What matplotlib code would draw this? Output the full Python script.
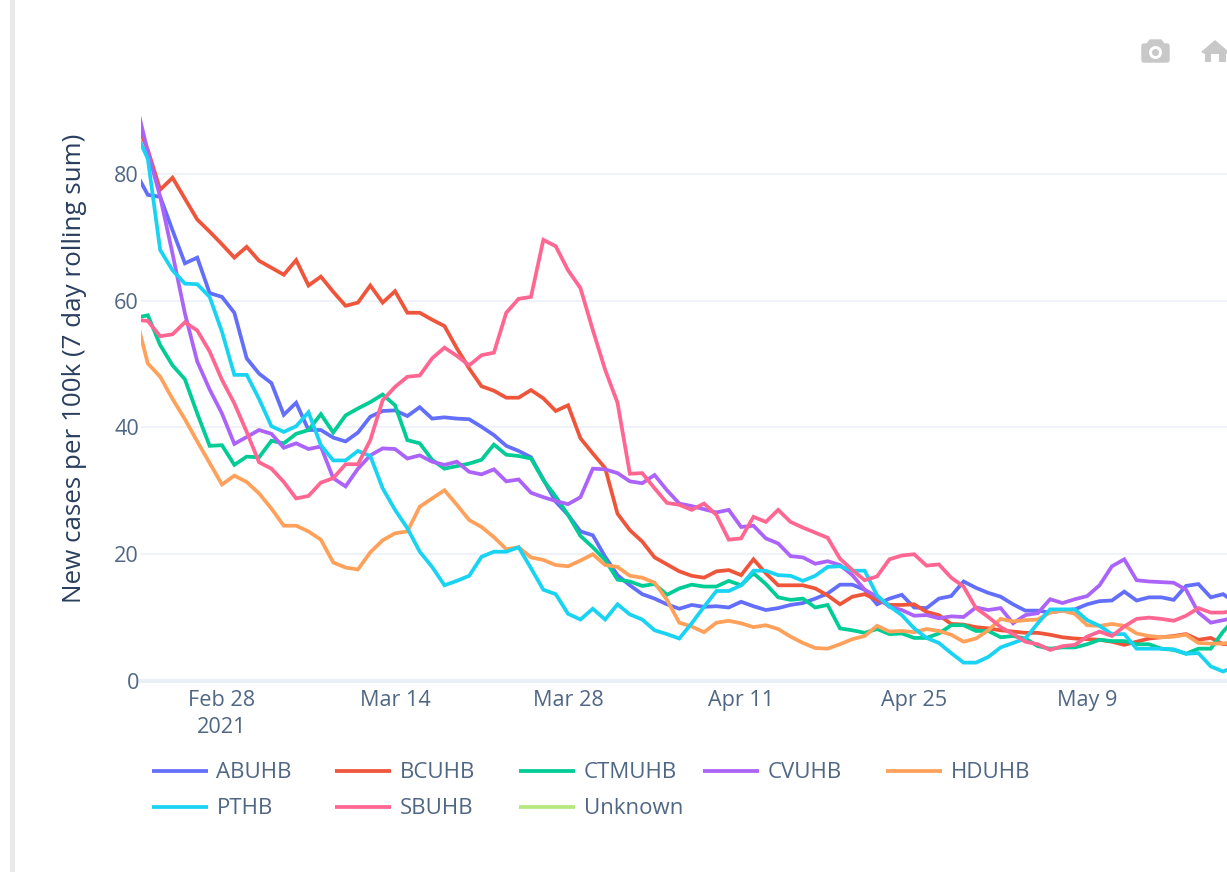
#!/usr/bin/env python

import matplotlib
matplotlib.use("Agg")
import matplotlib.pyplot as plt
import pandas as pd
from matplotlib.lines import Line2D
from matplotlib.patches import Circle, FancyBboxPatch, Polygon, Rectangle

plt.rcParams['font.family'] = ['Open Sans', 'DejaVu Sans']

dates = pd.date_range("2021-02-21", periods=90, freq="D")

ABUHB = [80.3,76.7,76.4,71.1,65.9,66.8,61.2,60.6,58.1,50.9,
         48.5,47.0,42.0,43.9,39.6,39.6,38.4,37.8,39.2,41.7,
         42.6,42.7,41.8,43.2,41.4,41.6,41.4,41.3,40.1,38.8,
         37.1,36.3,35.3,31.8,28.3,26.2,23.6,23.0,19.6,16.7,
         15.1,13.7,13.0,12.1,11.4,12.0,11.7,11.8,11.6,12.5,
         11.8,11.2,11.5,12.0,12.3,13.0,13.8,15.2,15.2,14.4,
         12.1,13.0,13.6,11.6,11.5,13.0,13.4,15.7,14.7,13.9,
         13.3,12.1,11.1,11.1,10.8,11.1,11.3,12.1,12.6,12.7,
         14.1,12.7,13.2,13.2,12.8,15.0,15.3,13.2,13.7,12.3]
BCUHB = [88.5,83.8,77.5,79.4,76.1,72.8,70.9,68.9,66.8,68.5,
         66.3,65.2,64.1,66.4,62.4,63.8,61.4,59.2,59.7,62.4,
         59.7,61.5,58.1,58.1,57.0,56.0,52.5,49.3,46.5,45.8,
         44.7,44.7,45.9,44.6,42.6,43.5,38.3,35.9,33.6,26.4,
         23.8,22.0,19.5,18.4,17.3,16.6,16.3,17.3,17.5,16.7,
         19.2,17.0,15.1,15.1,15.1,14.6,13.5,12.1,13.3,13.7,
         12.8,12.0,12.0,12.1,10.9,10.4,9.0,8.9,8.5,8.3,
         8.0,7.8,7.6,7.6,7.3,6.9,6.7,6.6,6.5,6.2,
         5.7,6.2,6.7,6.9,7.1,7.4,6.5,6.8,5.8,5.9]
CTMUHB = [57.3,57.7,53.0,49.8,47.6,42.2,37.1,37.2,34.1,35.4,
          35.3,37.9,37.5,39.0,39.6,42.1,39.2,41.9,43.0,44.0,
          45.2,43.5,38.0,37.5,34.9,33.5,33.9,34.3,34.9,37.3,
          35.7,35.5,35.1,31.7,29.1,26.2,22.9,21.1,19.1,16.0,
          15.7,15.0,15.3,13.6,14.6,15.2,14.9,14.9,15.8,15.1,
          17.0,15.3,13.2,12.8,13.0,11.6,12.0,8.3,8.0,7.6,
          8.2,7.4,7.5,6.8,6.8,7.5,8.8,8.8,7.9,7.9,
          6.9,7.1,6.7,5.5,5.1,5.3,5.3,5.8,6.5,6.3,
          6.3,5.8,5.8,5.1,4.9,4.3,5.1,5.1,7.8,9.9]
CVUHB = [91.6,83.5,76.4,67.4,58.0,50.4,46.0,42.2,37.4,38.5,
         39.6,39.0,36.8,37.5,36.6,37.0,32.0,30.7,33.5,35.6,
         36.7,36.6,35.1,35.6,34.6,34.1,34.6,33.0,32.6,33.4,
         31.5,31.8,29.7,29.0,28.4,27.9,29.0,33.5,33.4,32.8,
         31.5,31.2,32.5,30.1,28.0,27.6,27.1,26.6,27.0,24.3,
         24.5,22.5,21.7,19.7,19.5,18.5,18.9,18.3,16.7,14.4,
         13.3,11.7,11.2,10.3,10.4,9.9,10.2,10.1,11.6,11.2,
         11.5,9.1,10.4,10.7,12.9,12.3,12.9,13.4,15.1,18.1,
         19.2,15.9,15.7,15.6,15.5,14.4,10.8,9.2,9.6,10.0]
HDUHB = [57.7,50.1,48.0,44.5,41.3,37.8,34.4,31.0,32.4,31.4,
         29.6,27.2,24.5,24.5,23.6,22.3,18.7,17.9,17.6,20.3,
         22.2,23.3,23.6,27.5,28.8,30.1,27.8,25.4,24.3,22.7,
         20.8,21.1,19.5,19.1,18.3,18.1,19.0,20.0,18.3,18.0,
         16.6,16.3,15.5,12.8,9.2,8.6,7.7,9.2,9.5,9.1,
         8.5,8.8,8.2,7.0,6.0,5.2,5.1,5.8,6.6,7.1,
         8.7,7.8,7.9,7.7,8.2,7.9,7.3,6.2,6.7,8.0,
         9.8,9.4,9.6,9.7,10.8,11.1,10.6,8.8,8.7,9.0,
         8.7,7.5,7.1,6.9,7.0,7.3,6.0,5.9,5.9,6.2]
PTHB = [86.7,82.4,68.0,64.8,62.7,62.6,60.6,55.1,48.3,48.3,
        44.5,40.2,39.3,40.2,42.4,37.2,34.8,34.8,36.3,35.5,
        30.4,27.0,24.1,20.4,18.0,15.1,15.8,16.6,19.6,20.4,
        20.4,21.1,17.8,14.4,13.7,10.6,9.7,11.4,9.7,12.1,
        10.5,9.7,8.0,7.4,6.7,9.1,11.7,14.2,14.2,15.1,
        17.4,17.4,16.7,16.6,15.8,16.6,18.0,18.1,17.4,17.4,
        13.5,11.8,10.4,8.3,6.8,6.0,4.4,2.9,2.9,3.8,
        5.3,6.0,6.7,9.1,11.3,11.3,11.3,9.6,8.7,7.4,
        7.4,5.1,5.1,5.1,5.0,4.3,4.4,2.3,1.5,2.3]
SBUHB = [57.0,56.8,54.4,54.7,56.6,55.3,52.0,47.5,43.8,39.3,
         34.5,33.5,31.4,28.8,29.2,31.3,32.0,34.2,34.2,38.0,
         44.3,46.4,48.0,48.2,50.9,52.6,51.3,49.8,51.4,51.8,
         58.1,60.3,60.6,69.6,68.6,64.8,62.0,55.4,49.1,43.9,
         32.7,32.8,30.4,28.1,27.8,27.0,28.0,26.2,22.3,22.5,
         25.9,25.1,27.0,25.1,24.2,23.4,22.6,19.3,17.5,15.9,
         16.5,19.2,19.8,20.0,18.2,18.4,16.3,14.9,11.5,10.1,
         8.5,7.4,6.2,5.8,4.9,5.5,5.7,7.0,7.8,7.1,
         8.6,9.8,10.0,9.8,9.5,10.3,11.5,10.8,10.8,11.1]

series_names = ["ABUHB", "BCUHB", "CTMUHB", "CVUHB", "HDUHB", "PTHB", "SBUHB", "Unknown"]
series_values = [ABUHB, BCUHB, CTMUHB, CVUHB, HDUHB, PTHB, SBUHB, None]
series_colors = ["#636EFA", "#EF553B", "#00CC96", "#AB63FA", "#FFA15A", "#19D3F3", "#FF6692", "#B6E880"]

x_ticks = ["2021-02-28", "2021-03-14", "2021-03-28", "2021-04-11", "2021-04-25", "2021-05-09"]
x_labels = ["Feb 28\n2021", "Mar 14", "Mar 28", "Apr 11", "Apr 25", "May 9"]
y_ticks = [0, 20, 40, 60, 80]

W, H = 1227, 872
fig = plt.figure(figsize=(W / 100, H / 100), dpi=100, facecolor="white")

# overlay in pixel coords for page furniture and the legend
page = fig.add_axes([0, 0, 1, 1])
page.set_xlim(0, W)
page.set_ylim(H, 0)
page.axis("off")

ax = fig.add_axes([141 / W, (H - 681) / H, (W - 141) / W, 566 / H])
ax.patch.set_alpha(0)
for spine in ax.spines.values():
    spine.set_visible(False)

for name, values, color in zip(series_names, series_values, series_colors):
    if values is not None:
        ax.plot(dates, values, color=color, lw=2.7, label=name, solid_joinstyle="miter", zorder=3)

ax.set_xlim(pd.Timestamp("2021-02-21 10:45"), pd.Timestamp("2021-05-20 07:30"))
ax.set_ylim(0, 89.3)
ax.set_yticks(y_ticks)
ax.set_xticks(pd.to_datetime(x_ticks))
ax.set_xticklabels(x_labels, linespacing=1.4)
ax.tick_params(axis="both", length=0, labelsize=15.6, labelcolor="#506784")
ax.tick_params(axis="x", pad=6.5)
ax.tick_params(axis="y", pad=1.5)
ax.grid(axis="y", color="#EBF0F8", lw=1.1, zorder=0)
ax.grid(axis="x", visible=False)
ax.axhline(0, color="#EBF0F8", lw=2.9, clip_on=False, zorder=1)
ax.set_ylabel("New cases per 100k (7 day rolling sum)", fontsize=18.7, color="#2A3F5F")
ax.yaxis.set_label_coords((87 - 141) / (W - 141), (681 - 368) / 566)

# legend, two rows on a fixed column pitch like plotly draws it
for i, (name, color) in enumerate(zip(series_names, series_colors)):
    col, row = i % 5, i // 5
    lx = 151.5 + col * 183.7
    ly = 771 + row * 36
    page.add_line(Line2D([lx, lx + 56], [ly, ly], color=color, lw=2.7, solid_capstyle="butt"))
    page.text(lx + 65, ly + 1.5, name, fontsize=16, color="#506784", va="center", ha="left")

# grey strip at the left of the page
page.add_patch(Rectangle((10, 0), 5, H, color="#E9E9E9", lw=0))

# modebar icons
grey = "#C8C8C8"
page.add_patch(FancyBboxPatch((1142, 44), 27, 18, boxstyle="round,pad=0,rounding_size=2", fc=grey, ec=grey, lw=1))
page.add_patch(Polygon([(1147, 44), (1150, 40), (1161, 40), (1164, 44)], fc=grey, ec=grey, lw=1))
page.add_patch(Circle((1155.5, 52.5), 6.5, fc="white", ec="none"))
page.add_patch(Circle((1155.5, 52.5), 3.5, fc=grey, ec="none"))
page.add_patch(Polygon([(1201, 52), (1215, 40), (1229, 52), (1226, 54), (1226, 62), (1219, 62), (1219, 54),
                        (1211, 54), (1211, 62), (1205, 62), (1205, 54)], fc=grey, ec="none"))

fig.savefig("out.png", dpi=100)
